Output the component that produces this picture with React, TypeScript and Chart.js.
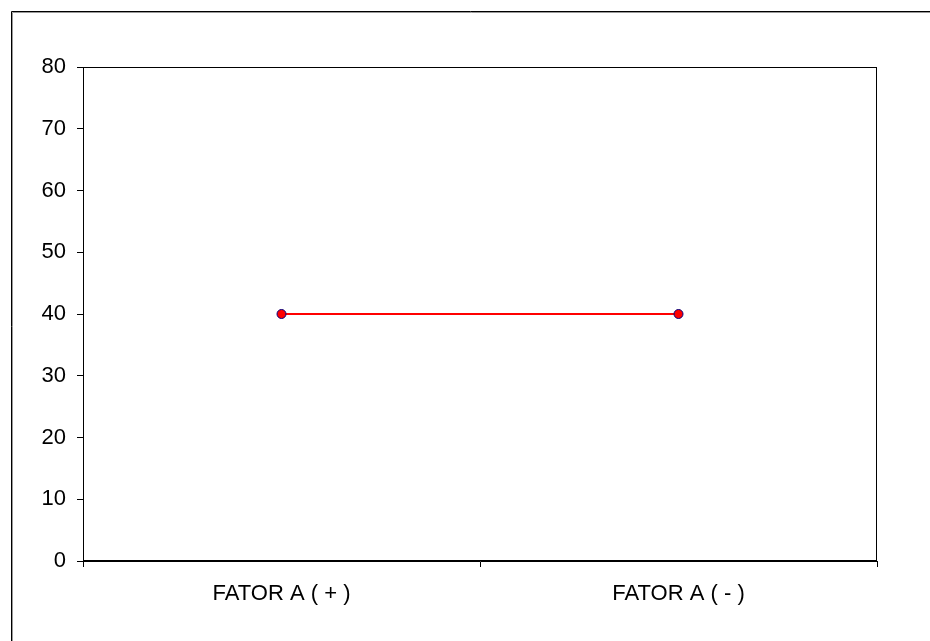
import React, { useEffect, useRef } from "react";
import { Chart, registerables } from "chart.js";

Chart.register(...registerables);

const categories = ["FATOR A ( + )", "FATOR A ( - )"];
const seriesValues = [40, 40];
const yMin = 0;
const yMax = 80;
const yStep = 10;

const framePlugin = {
  id: "frame",
  afterDraw(chart: any) {
    const { ctx, chartArea } = chart;
    ctx.save();
    // outer frame (left and top edges visible)
    ctx.strokeStyle = "#000";
    ctx.lineWidth = 1;
    ctx.beginPath();
    ctx.moveTo(11.5, 641);
    ctx.lineTo(11.5, 11.5);
    ctx.lineTo(930, 11.5);
    ctx.stroke();
    ctx.strokeStyle = "#999";
    ctx.beginPath();
    ctx.moveTo(12.5, 641);
    ctx.lineTo(12.5, 12.5);
    ctx.lineTo(930, 12.5);
    ctx.stroke();
    // plot area box
    ctx.strokeStyle = "#000";
    ctx.lineWidth = 1;
    const l = Math.round(chartArea.left) + 0.5;
    const t = Math.round(chartArea.top) + 0.5;
    const r = Math.round(chartArea.right) - 0.5;
    const b = Math.round(chartArea.bottom) - 0.5;
    ctx.strokeRect(l, t, r - l, b - t);
    ctx.restore();
  },
};

export default function App() {
  const ref = useRef<HTMLCanvasElement>(null);
  useEffect(() => {
    if (!ref.current) return;
    const font = { family: "'Liberation Sans', Arial, sans-serif", size: 22 };
    const chart = new Chart(ref.current, {
      type: "line",
      data: {
        labels: categories,
        datasets: [
          {
            data: seriesValues,
            borderColor: "#FF0000",
            borderWidth: 2,
            pointRadius: 4.5,
            pointBackgroundColor: "#FF0000",
            pointBorderColor: "#000080",
            pointBorderWidth: 1,
            tension: 0,
          },
        ],
      },
      options: {
        responsive: false,
        animation: false,
        devicePixelRatio: 1,
        layout: { padding: { top: 67, right: 53, bottom: 0, left: 0 } },
        plugins: { legend: { display: false }, tooltip: { enabled: false } },
        scales: {
          x: {
            type: "category",
            offset: true,
            grid: {
              offset: true,
              drawOnChartArea: false,
              drawTicks: true,
              tickLength: 6,
              color: "#000",
            },
            border: { color: "#000" },
            ticks: { font, color: "#000", padding: 14, maxRotation: 0 },
            afterFit(scale: any) {
              scale.height = 80;
            },
          },
          y: {
            min: yMin,
            max: yMax,
            grid: {
              drawOnChartArea: false,
              drawTicks: true,
              tickLength: 6,
              color: "#000",
            },
            border: { color: "#000" },
            ticks: { stepSize: yStep, font, color: "#000", padding: 11 },
            afterFit(scale: any) {
              scale.width = 83;
            },
          },
        },
      },
      plugins: [framePlugin],
    });
    return () => chart.destroy();
  }, []);
  return (
    <div style={{ position: "fixed", left: 0, top: 0, width: 930, height: 641, background: "#fff" }}>
      <canvas ref={ref} width={930} height={641} style={{ display: "block", width: 930, height: 641 }} />
    </div>
  );
}
